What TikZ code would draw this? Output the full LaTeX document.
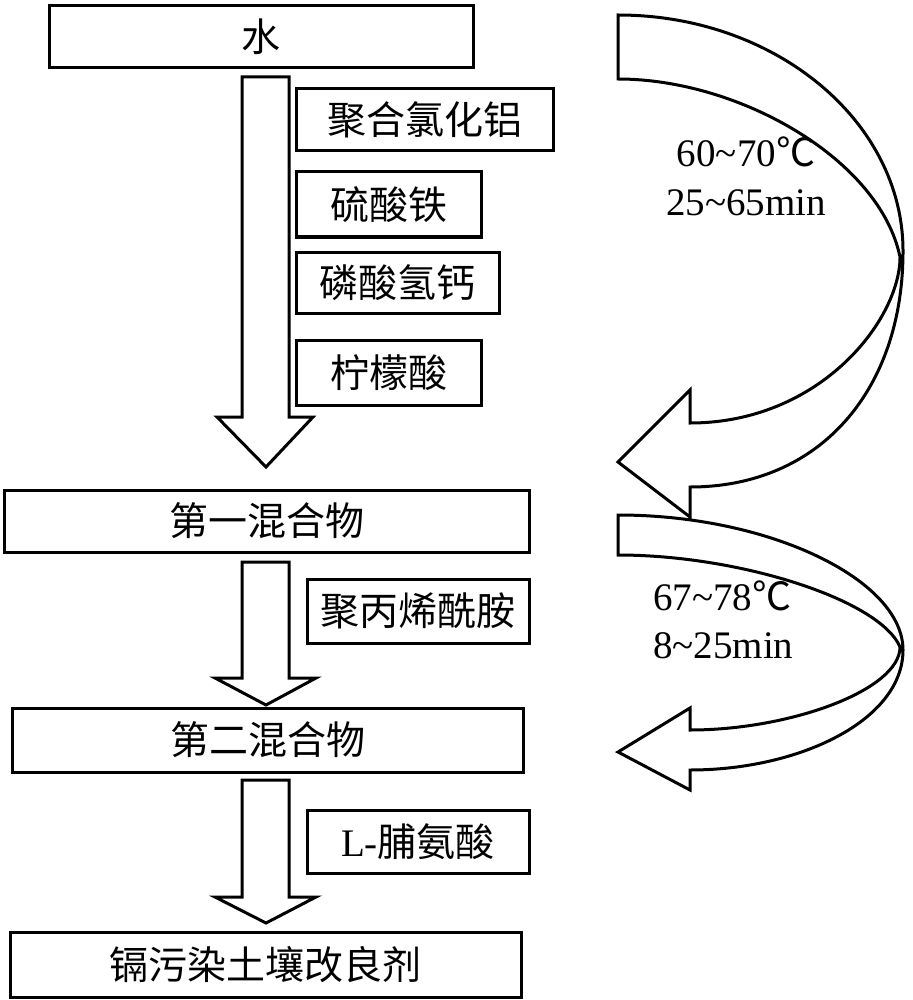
\documentclass[tikz,border=0pt]{standalone}
\usepackage{fontspec}
\setmainfont{Liberation Serif}
\newfontfamily\cjk{Noto Sans CJK SC}
\begin{document}
\begin{tikzpicture}[x=1pt,y=-1pt,
  lw/.style={line width=3pt},
  box/.style={draw,lw,rectangle,inner sep=0pt,font=\cjk\fontsize{39}{47}\selectfont},
  blk/.style={draw,lw,fill=white,line join=miter},
  lbl/.style={inner sep=0pt,font=\rmfamily\fontsize{39}{47}\selectfont}]
\useasboundingbox (0,0) rectangle (912,1000);
% boxes
\node[box,minimum width=424pt,minimum height=62pt] (water) at (261,37) {水};
\node[box,minimum width=257pt,minimum height=62pt] (pac) at (424.5,119.5) {聚合氯化铝};
\node[box,minimum width=185pt,minimum height=65pt] (fe) at (388.5,204.5) {硫酸铁};
\node[box,minimum width=203pt,minimum height=61pt] (ca) at (397.5,282.5) {磷酸氢钙};
\node[box,minimum width=185pt,minimum height=65pt] (cit) at (388.5,372.5) {柠檬酸};
\node[box,minimum width=525pt,minimum height=62pt] (mix1) at (266.5,521) {第一混合物};
\node[box,minimum width=222pt,minimum height=64pt] (pam) at (418,611) {聚丙烯酰胺};
\node[box,minimum width=511pt,minimum height=64pt] (mix2) at (267.5,740) {第二混合物};
\node[box,minimum width=222pt,minimum height=63pt] (pro) at (418,841.5) {{\rmfamily L-}脯氨酸};
\node[box,minimum width=511pt,minimum height=65pt] (fin) at (265.5,964.5) {镉污染土壤改良剂};
% straight block arrows
\draw[blk] (242,77) -- (289,77) -- (289,417) -- (313,417) -- (266,467) -- (217,417) -- (242,417) -- cycle;
\draw[blk] (242,562) -- (289,562) -- (289,678) -- (316,678) -- (266,705) -- (215,678) -- (242,678) -- cycle;
\draw[blk] (242,780) -- (289,780) -- (289,897) -- (316,897) -- (266,923) -- (215,897) -- (242,897) -- cycle;
% curved arrow 1
\draw[blk] (618,15) .. controls (775,15) and (903,121) .. (903,251)
  .. controls (903,390) and (820,487) .. (690,487)
  -- (690,517) -- (618,462) -- (690,390) -- (690,423)
  .. controls (820,423) and (900,320) .. (900,257)
  .. controls (880,160) and (740,79) .. (618,79) -- cycle;
% curved arrow 2
\draw[blk] (618,515) .. controls (770,515) and (903,580) .. (903,650)
  .. controls (903,720) and (800,770) .. (690,770)
  -- (690,790) -- (618,752) -- (690,708) -- (690,730)
  .. controls (790,730) and (900,690) .. (900,647)
  .. controls (880,600) and (740,555) .. (618,555) -- cycle;
% labels
\node[lbl,anchor=base] (t1a) at (746,167) {60\textasciitilde70{\cjk ℃}};
\node[lbl,anchor=base] (t1b) at (746,215) {25\textasciitilde65min};
\node[lbl,anchor=base west] (t2a) at (653,610) {67\textasciitilde78{\cjk ℃}};
\node[lbl,anchor=base west] (t2b) at (653,658) {8\textasciitilde25min};
\end{tikzpicture}
\end{document}
